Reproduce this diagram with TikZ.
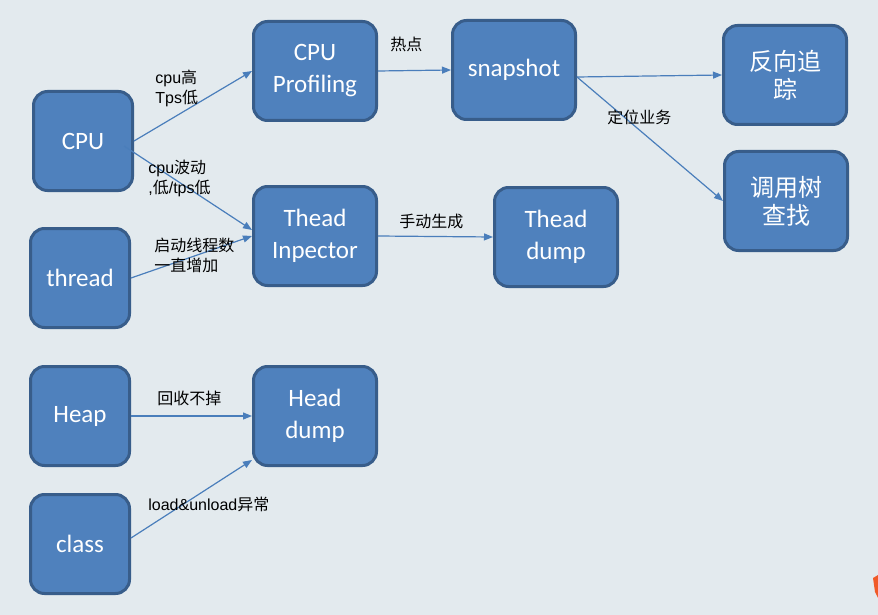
\documentclass[tikz,border=0pt]{standalone}
\usepackage{fontspec}
\setmainfont{Liberation Sans}
\newfontfamily\boxfont{Carlito}
\newfontfamily\cjk{Noto Sans CJK SC}
\usetikzlibrary{positioning,arrows.meta,calc}
\definecolor{bgtint}{RGB}{227,234,238}
\definecolor{boxblue}{RGB}{79,129,189}
\definecolor{boxedge}{RGB}{56,93,138}
\definecolor{linkblue}{RGB}{74,126,187}
\definecolor{markorange}{RGB}{240,90,40}

\begin{document}
\begin{tikzpicture}[x=0.5pt,y=-0.5pt,
  box/.style={draw=boxedge,line width=1.5pt,fill=boxblue,rounded corners=7pt,
    minimum height=49.5pt,text=white,align=center,
    font=\boxfont\fontsize{12.5}{15}\selectfont},
  smallbox/.style={box,minimum width=49.5pt},
  widebox/.style={box,minimum width=61.5pt},
  cjkbox/.style={widebox,font=\cjk\fontsize{12}{14}\selectfont},
  link/.style={draw=linkblue,line width=0.6pt,-{Triangle[length=4.5pt,width=3.5pt]}},
  tag/.style={anchor=west,align=left,inner sep=0pt,font=\fontsize{8}{10}\selectfont}]
  \fill[bgtint] (0,0) rectangle (878,615);
  \useasboundingbox (0,0) rectangle (878,615);

  % sources
  \node[smallbox] (cpu) at (83,141) {CPU};
  \node[smallbox] (thread) at (80,278) {thread};
  \node[smallbox] (heap) at (80,416) {Heap};
  \node[smallbox] (class) at (80,544) {class};

  % tools and results
  \node[widebox] (prof) at (315,71) {CPU\\[1pt]Profiling};
  \node[widebox] (insp) at (315,236) {Thead\\[1pt]Inpector};
  \node[widebox] (hdump) at (315,416) {Head\\[1pt]dump};
  \node[widebox] (snap) at (514,70) {snapshot};
  \node[widebox] (tdump) at (556,237) {Thead\\[1pt]dump};
  \node[cjkbox] (back) at (785,75) {反向追\\踪};
  \node[cjkbox] (tree) at (786,201) {调用树\\查找};

  \draw[link] (cpu.east) -- (prof.west);
  \draw[link] ([shift={(-10,5)}]cpu.east) -- ([shift={(0,-6)}]insp.west);
  \draw[link] (thread.east) -- (insp.west);
  \draw[link] (prof.east) -- (snap.west);
  \draw[link] (insp.east) -- (tdump.west);
  \draw[link] ([shift={(0,7)}]snap.east) -- (back.west);
  \draw[link] ([shift={(0,7)}]snap.east) -- (tree.west);
  \draw[link] (heap.east) -- (hdump.west);
  \draw[link] ([shift={(0,-6)}]class.east) -- ([shift={(0,44)}]hdump.west);

  \node[tag] (hot) at (155,88) {cpu{\cjk 高}\\Tps{\cjk 低}};
  \node[tag] (wave) at (148,178) {cpu{\cjk 波动}\\,{\cjk 低}/tps{\cjk 低}};
  \node[tag] (grow) at (154,255) {{\cjk 启动线程数}\\{\cjk 一直增加}};
  \node[tag] (spot) at (390,44) {\cjk 热点};
  \node[tag] (manual) at (399,221) {\cjk 手动生成};
  \node[tag] (locate) at (607,117) {\cjk 定位业务};
  \node[tag] (leak) at (157,398) {\cjk 回收不掉};
  \node[tag] (load) at (148,504) {load\&unload{\cjk 异常}};

  \fill[markorange] (873,578) -- (878,575) -- (878,598) -- (875,592) -- cycle;
\end{tikzpicture}
\end{document}
